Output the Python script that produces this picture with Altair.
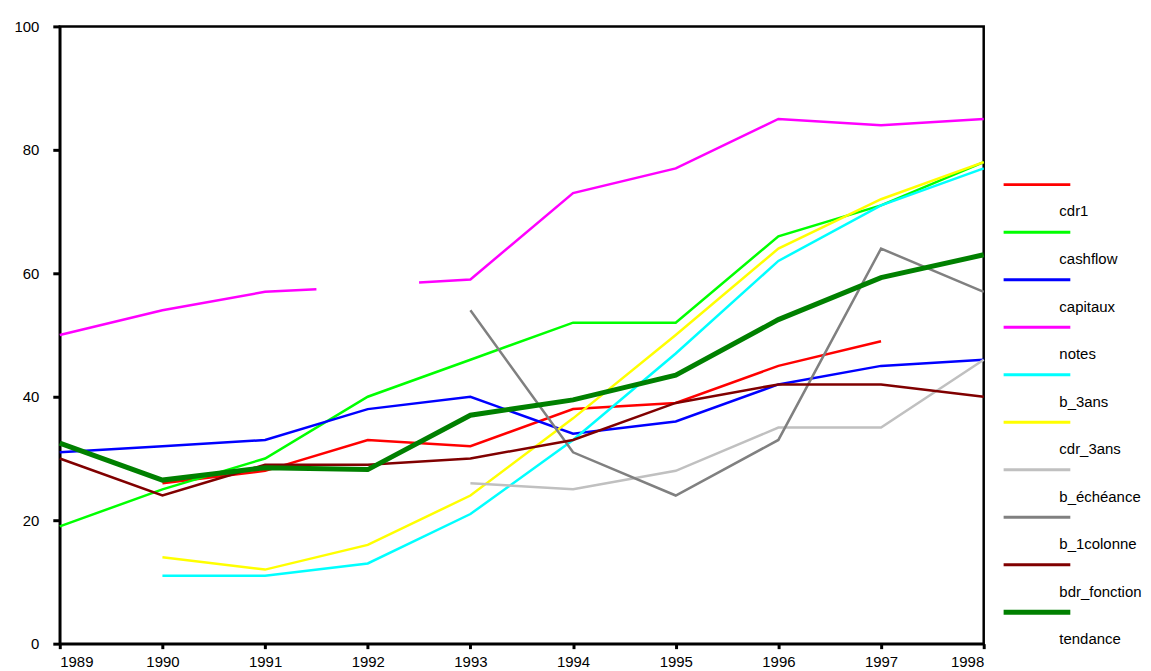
import altair as alt
import pandas as pd

years = list(range(1989, 1999))

series_names = ["cdr1", "cashflow", "capitaux", "notes", "b_3ans", "cdr_3ans",
                "b_échéance", "b_1colonne", "bdr_fonction", "tendance"]
series_colors = ["#FF0000", "#00FF00", "#0000FF", "#FF00FF", "#00FFFF", "#FFFF00",
                 "#C0C0C0", "#808080", "#800000", "#008000"]

cdr1 = [None, 26, 28, 33, 32, 38, 39, 45, 49, None]
cashflow = [19, 25, 30, 40, 46, 52, 52, 66, 71, 78]
capitaux = [31, 32, 33, 38, 40, 34, 36, 42, 45, 46]
notes = [50, 54, 57, None, 59, 73, 77, 85, 84, 85]
notes_gap_years = [1991.5, 1992.5]
notes_gap_values = [57.4, 58.5]
b_3ans = [None, 11, 11, 13, 21, 33, 47, 62, 71, 77]
cdr_3ans = [None, 14, 12, 16, 24, 36.5, 50, 64, 72, 78]
b_echeance = [None, None, None, None, 26, 25, 28, 35, 35, 46]
b_1colonne = [None, None, None, None, 54, 31, 24, 33, 64, 57]
bdr_fonction = [30, 24, 29, 29, 30, 33, 39, 42, 42, 40]
tendance = [32.5, 26.5, 28.5, 28.2, 37, 39.5, 43.5, 52.5, 59.3, 63]

values_by_series = [cdr1, cashflow, capitaux, notes, b_3ans, cdr_3ans,
                    b_echeance, b_1colonne, bdr_fonction, tendance]

rows = []
for name, vals in zip(series_names, values_by_series):
    seg = 0
    pts = list(zip(years, vals))
    if name == "notes":
        pts = pts + list(zip(notes_gap_years, notes_gap_values))
        pts.sort(key=lambda p: p[0])
    for yr, v in pts:
        if v is None:
            seg += 1
            continue
        rows.append({"series": name, "seg": f"{name}_{seg}", "year": yr, "value": v})
df = pd.DataFrame(rows)

FONT = "Liberation Sans"

color = alt.Color("series:N", scale=alt.Scale(domain=series_names, range=series_colors), legend=None)

x_enc = alt.X("year:Q",
              scale=alt.Scale(domain=[1989, 1998], nice=False, zero=False),
              axis=alt.Axis(values=years, format="d", title=None, grid=False,
                            tickSize=5, tickWidth=3, domainWidth=2.5,
                            labelFontSize=15, labelPadding=6, labelFont=FONT,
                            labelColor="black", domainColor="black", tickColor="black"))
y_enc = alt.Y("value:Q",
              scale=alt.Scale(domain=[0, 100], nice=False),
              axis=alt.Axis(values=[0, 20, 40, 60, 80, 100], title=None, grid=False,
                            tickSize=7, tickWidth=3, domainWidth=2.5,
                            labelFontSize=15, labelPadding=14, labelFont=FONT,
                            labelColor="black", domainColor="black", tickColor="black"))

thin = alt.Chart(df).transform_filter(alt.datum.series != "tendance").mark_line(
    strokeWidth=2.5).encode(x=x_enc, y=y_enc, color=color, detail="seg:N")
thick = alt.Chart(df).transform_filter(alt.datum.series == "tendance").mark_line(
    strokeWidth=5).encode(x=x_enc, y=y_enc, color=color, detail="seg:N")

main = alt.layer(thin, thick).properties(
    width=928, height=620,
    view=alt.ViewBackground(stroke="black", strokeWidth=2.5))

leg_df = pd.DataFrame({"series": series_names, "idx": list(range(len(series_names)))})
leg_y = alt.Y("idx:Q", scale=alt.Scale(domain=[-3.33, 9.66], reverse=True, nice=False, zero=False),
              axis=None)
leg_lines = alt.Chart(leg_df).mark_rule().encode(
    x=alt.value(20), x2=alt.value(87), y=leg_y, color=color,
    strokeWidth=alt.condition(alt.datum.series == "tendance", alt.value(5), alt.value(3)))
leg_text = alt.Chart(leg_df).mark_text(
    align="left", baseline="middle", dy=27, fontSize=15, font=FONT, color="black"
).encode(x=alt.value(76), y=leg_y, text="series:N")
legend = alt.layer(leg_lines, leg_text).properties(
    width=160, height=620, view=alt.ViewBackground(strokeOpacity=0))

chart = alt.hconcat(main, legend, spacing=0, bounds="flush").properties(
    padding={"left": 4, "top": 8, "right": 0, "bottom": 0}
).configure(font=FONT)

chart.save("out.html", embed_options={"renderer": "svg", "actions": False})
